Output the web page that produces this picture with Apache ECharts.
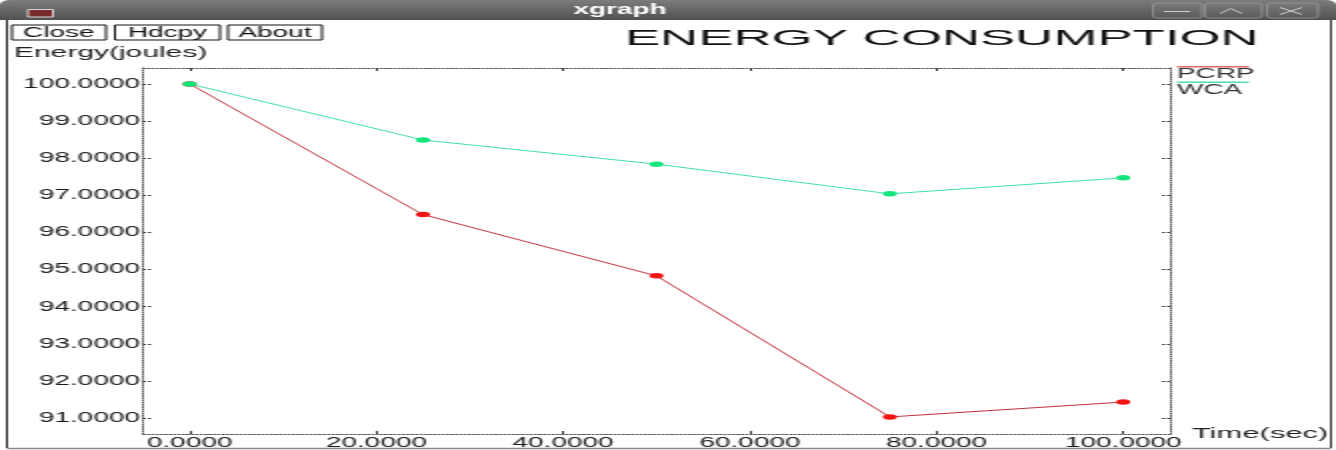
<!DOCTYPE html>
<html><head><meta charset="utf-8">
<script src="https://cdn.jsdelivr.net/npm/echarts@6/dist/echarts.min.js"></script>
<style>
html,body{margin:0;padding:0;background:#fff;width:1336px;height:450px;overflow:hidden}
#c{width:668px;height:450px;transform:scaleX(2);transform-origin:0 0;}
</style></head><body><div id="c"></div>
<script>
// data (x in seconds, y in joules)
const xValues = [0, 25, 50, 75, 100];
const pcrp = [100, 96.48, 94.83, 91.03, 91.43];
const wca = [100, 98.49, 97.84, 97.04, 97.47];
const xTicks = [0, 20, 40, 60, 80, 100];
const yTicks = [91, 92, 93, 94, 95, 96, 97, 98, 99, 100];
const seriesNames = ['PCRP', 'WCA'];
const buttonLabels = ['Close', 'Hdcpy', 'About'];

const FONT = '"Liberation Sans", Arial, sans-serif';
const chart = echarts.init(document.getElementById('c'));
const fmt = v => Number(v).toFixed(4);
const axisLineStyle = {show: true, onZero: false, lineStyle: {color: '#555', type: [1, 1.2], width: 1}};

function xAxis(pos, labels) {
  return {
    type: 'value', min: -5, max: 105, position: pos,
    axisLine: axisLineStyle,
    axisTick: {show: true, inside: true, length: 3, customValues: xTicks, lineStyle: {color: '#333'}},
    axisLabel: {show: labels, customValues: xTicks, formatter: fmt, margin: 2, fontSize: 14, color: '#1a1a1a', fontFamily: FONT},
    splitLine: {show: false}
  };
}
function yAxis(pos, labels) {
  return {
    type: 'value', min: 90.57, max: 100.43, position: pos,
    axisLine: axisLineStyle,
    axisTick: {show: true, inside: true, length: 5, customValues: yTicks, lineStyle: {color: '#333', type: [1.5, 1]}},
    axisLabel: {show: labels, customValues: yTicks, formatter: fmt, margin: 1.5, fontSize: 14, color: '#1a1a1a', fontFamily: FONT},
    splitLine: {show: false}
  };
}

const btnBoxes = [[6, 47], [57.5, 52.5], [114, 47]];
const graphics = [
  {type: 'rect', shape: {x: 0, y: 0, width: 668, height: 20, r: [5, 5, 0, 0]},
   style: {fill: new echarts.graphic.LinearGradient(0, 0, 0, 1, [{offset: 0, color: '#7c7c7c'}, {offset: 1, color: '#505050'}])}},
  {type: 'text', x: 310, y: 10.5, style: {text: 'xgraph', fill: '#fff', font: 'bold 14px ' + FONT, align: 'center', verticalAlign: 'middle'}},
  {type: 'rect', shape: {x: 14, y: 9.5, width: 12.5, height: 7.5}, style: {fill: '#7a2a2a', stroke: '#d8d8d8', lineWidth: 1}},
  {type: 'rect', shape: {x: 576.5, y: 3, width: 24.5, height: 15, r: 2}, style: {fill: 'rgba(255,255,255,0.04)', stroke: '#9a9a9a', lineWidth: 0.8}},
  {type: 'rect', shape: {x: 602.5, y: 3, width: 28.5, height: 15, r: 2}, style: {fill: 'rgba(255,255,255,0.04)', stroke: '#9a9a9a', lineWidth: 0.8}},
  {type: 'rect', shape: {x: 633.5, y: 3, width: 25.5, height: 15, r: 2}, style: {fill: 'rgba(255,255,255,0.04)', stroke: '#9a9a9a', lineWidth: 0.8}},
  {type: 'line', shape: {x1: 582, y1: 11.5, x2: 595, y2: 11.5}, style: {stroke: '#cfcfcf', lineWidth: 1}},
  {type: 'polyline', shape: {points: [[610, 13.5], [615.5, 8.5], [621, 13.5]]}, style: {stroke: '#cfcfcf', lineWidth: 1, fill: 'none'}},
  {type: 'line', shape: {x1: 640, y1: 7.5, x2: 651, y2: 14.5}, style: {stroke: '#cfcfcf', lineWidth: 1}},
  {type: 'line', shape: {x1: 640, y1: 14.5, x2: 651, y2: 7.5}, style: {stroke: '#cfcfcf', lineWidth: 1}},
  // window borders
  {type: 'line', shape: {x1: 3.5, y1: 20, x2: 3.5, y2: 448}, style: {stroke: '#222', lineWidth: 1}},
  {type: 'line', shape: {x1: 665.5, y1: 20, x2: 665.5, y2: 448}, style: {stroke: '#333', lineWidth: 1}},
  {type: 'line', shape: {x1: 3.5, y1: 448.5, x2: 665.5, y2: 448.5}, style: {stroke: '#8a8a8a', lineWidth: 1.5}},
  // titles
  {type: 'text', x: 312.5, y: 38.5, scaleX: 1.2, style: {text: 'ENERGY CONSUMPTION', fill: '#111', font: '22px ' + FONT, align: 'left', verticalAlign: 'middle'}},
  {type: 'text', x: 7, y: 53, style: {text: 'Energy(joules)', fill: '#222', font: '15px ' + FONT, align: 'left', verticalAlign: 'middle'}},
  {type: 'text', x: 596, y: 434, scaleX: 1.03, style: {text: 'Time(sec)', fill: '#222', font: '15px ' + FONT, align: 'left', verticalAlign: 'middle'}}
];
buttonLabels.forEach((b, i) => {
  const [bx, bw] = btnBoxes[i];
  graphics.push({type: 'rect', shape: {x: bx, y: 25, width: bw, height: 15}, style: {fill: 'none', stroke: '#111', lineWidth: 1}});
  graphics.push({type: 'text', x: bx + bw / 2, y: 33, style: {text: b, fill: '#111', font: '14px ' + FONT, align: 'center', verticalAlign: 'middle'}});
});

chart.setOption({
  animation: false,
  textStyle: {fontFamily: FONT},
  grid: {left: 71.5, right: 83, top: 68, bottom: 16, containLabel: false},
  xAxis: [xAxis('bottom', true), xAxis('top', false)],
  yAxis: [yAxis('left', true), yAxis('right', false)],
  legend: {
    data: seriesNames, orient: 'vertical', left: 582.5, top: 66, padding: 0, itemGap: 0,
    icon: 'none', itemWidth: 1, itemHeight: 1, selectedMode: false,
    formatter: name => '{l' + seriesNames.indexOf(name) + '|}\n{t|' + name + '}',
    textStyle: {
      fontSize: 14, color: '#333',
      rich: {
        l0: {width: 36, height: 1.5, lineHeight: 1.5, fontSize: 1, backgroundColor: '#e06868'},
        l1: {width: 36, height: 1.5, lineHeight: 1.5, fontSize: 1, backgroundColor: '#4fdca8'},
        t: {fontSize: 14, lineHeight: 14, color: '#333', fontFamily: FONT}
      }
    }
  },
  series: [
    {name: seriesNames[0], type: 'line', data: xValues.map((x, i) => [x, pcrp[i]]),
     symbol: 'circle', symbolSize: [7, 5.5], lineStyle: {color: '#c0303c', width: 1},
     itemStyle: {color: '#f01414'}},
    {name: seriesNames[1], type: 'line', data: xValues.map((x, i) => [x, wca[i]]),
     symbol: 'circle', symbolSize: [7, 5.5], lineStyle: {color: '#3ee0a6', width: 1},
     itemStyle: {color: '#12e67a'}}
  ],
  graphic: graphics
});
</script></body></html>
